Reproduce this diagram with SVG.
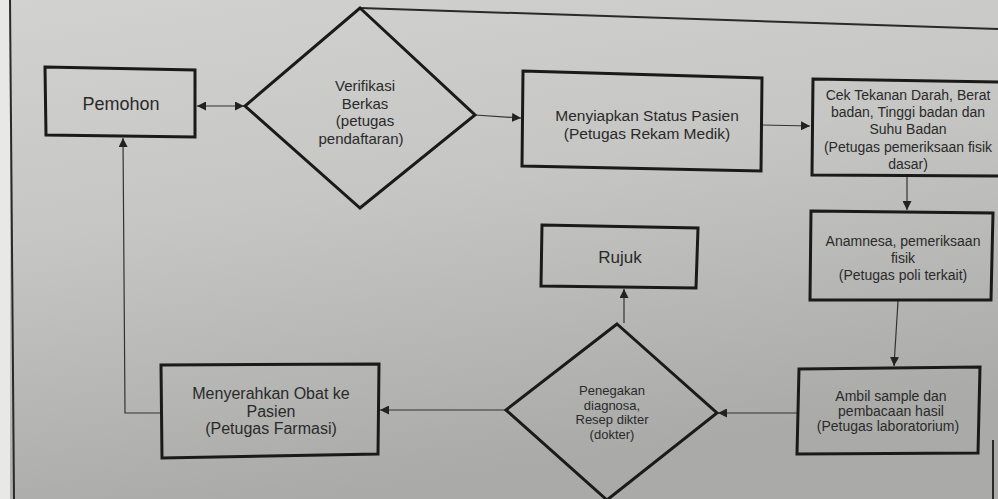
<svg xmlns="http://www.w3.org/2000/svg" width="998" height="499" viewBox="0 0 998 499">
<defs>
<linearGradient id="bg" x1="0" y1="0" x2="0.3" y2="1">
<stop offset="0" stop-color="#d2d2d0"/>
<stop offset="0.45" stop-color="#c6c6c4"/>
<stop offset="1" stop-color="#aaaaa8"/>
</linearGradient>
<marker id="ah" viewBox="0 0 10 10" refX="10" refY="5" markerWidth="9" markerHeight="9" markerUnits="userSpaceOnUse" orient="auto-start-reverse">
<path d="M0,0 L10,5 L0,10 z" fill="#222"/>
</marker>
<style>
.box{fill:none;stroke:#1a1a1a;stroke-width:3}
.t{font-family:"Liberation Sans",Arial,sans-serif;font-size:14px;fill:#2a2a2a;text-anchor:middle}
.conn{fill:none;stroke:#333;stroke-width:1.2}
.frame{fill:none;stroke:#2a2a2a;stroke-width:2}
</style>
</defs>
<rect width="998" height="499" fill="url(#bg)"/>
<rect x="0" y="0" width="10" height="499" fill="#e8e8e6"/>
<path class="frame" d="M10,0 L14,499"/>
<path class="frame" d="M360,8 L998,29"/>
<path class="frame" d="M993,440 L993,499"/>

<g id="connectors">
<path class="conn" d="M197,106 L244,106" marker-start="url(#ah)" marker-end="url(#ah)"/>
<path class="conn" d="M475,115 L521,118" marker-end="url(#ah)"/>
<path class="conn" d="M762,125 L810,126" marker-end="url(#ah)"/>
<path class="conn" d="M907,176 L907,210" marker-end="url(#ah)"/>
<path class="conn" d="M898,301 L894,366" marker-end="url(#ah)"/>
<path class="conn" d="M798,413 L718,413" marker-end="url(#ah)"/>
<path class="conn" d="M624,323 L624,289" marker-end="url(#ah)"/>
<path class="conn" d="M506,410 L380,410" marker-end="url(#ah)"/>
<path class="conn" d="M160,413 L125,413 L123,138" marker-end="url(#ah)"/>
</g>

<g id="pemohon">
<path class="box" d="M45,67 L195,70 L195,137 L46,135 z"/>
<text class="t" x="121" y="110" style="font-size:18px">Pemohon</text>
</g>

<g id="verifikasi">
<path class="box" d="M360,8 L475,115 L360,208 L245,106 z"/>
<text class="t" x="365" y="91" style="font-size:15px">Verifikasi</text>
<text class="t" x="365" y="109" style="font-size:15px">Berkas</text>
<text class="t" x="365" y="126" style="font-size:15px">(petugas</text>
<text class="t" x="361" y="144" style="font-size:15px">pendaftaran)</text>
</g>

<g id="menyiapkan">
<path class="box" d="M523,71 L762,78 L761,171 L522,166 z"/>
<text class="t" x="647" y="121" style="font-size:15.5px">Menyiapkan Status Pasien</text>
<text class="t" x="647" y="139" style="font-size:15.5px">(Petugas Rekam Medik)</text>
</g>

<g id="cek">
<path class="box" d="M813,79 L1000,82 L1000,176 L812,175 z"/>
<text class="t" x="908" y="100">Cek Tekanan Darah, Berat</text>
<text class="t" x="908" y="117">badan, Tinggi badan dan</text>
<text class="t" x="908" y="134">Suhu Badan</text>
<text class="t" x="908" y="152">(Petugas pemeriksaan fisik</text>
<text class="t" x="908" y="169">dasar)</text>
</g>

<g id="anamnesa">
<path class="box" d="M811,211 L993,213 L991,300 L810,300 z"/>
<text class="t" x="903" y="246">Anamnesa, pemeriksaan</text>
<text class="t" x="903" y="263">fisik</text>
<text class="t" x="903" y="280">(Petugas poli terkait)</text>
</g>

<g id="ambil">
<path class="box" d="M799,369 L980,367 L978,453 L797,454 z"/>
<text class="t" x="891" y="401">Ambil sample dan</text>
<text class="t" x="891" y="416">pembacaan hasil</text>
<text class="t" x="888" y="431">(Petugas laboratorium)</text>
</g>

<g id="rujuk">
<path class="box" d="M542,225 L698,228 L696,288 L541,286 z"/>
<text class="t" x="620" y="263" style="font-size:17px">Rujuk</text>
</g>

<g id="penegakan">
<path class="box" d="M617,324 L717,413 L607,500 L506,410 z"/>
<text class="t" x="612" y="395" style="font-size:13px">Penegakan</text>
<text class="t" x="612" y="409.5" style="font-size:13px">diagnosa,</text>
<text class="t" x="612" y="424" style="font-size:13px">Resep dikter</text>
<text class="t" x="612" y="438.5" style="font-size:13px">(dokter)</text>
</g>

<g id="menyerahkan">
<path class="box" d="M161,365 L379,364 L378,454 L162,458 z"/>
<text class="t" x="271" y="399" style="font-size:16px">Menyerahkan Obat ke</text>
<text class="t" x="271" y="417" style="font-size:16px">Pasien</text>
<text class="t" x="271" y="434" style="font-size:16px">(Petugas Farmasi)</text>
</g>
</svg>
